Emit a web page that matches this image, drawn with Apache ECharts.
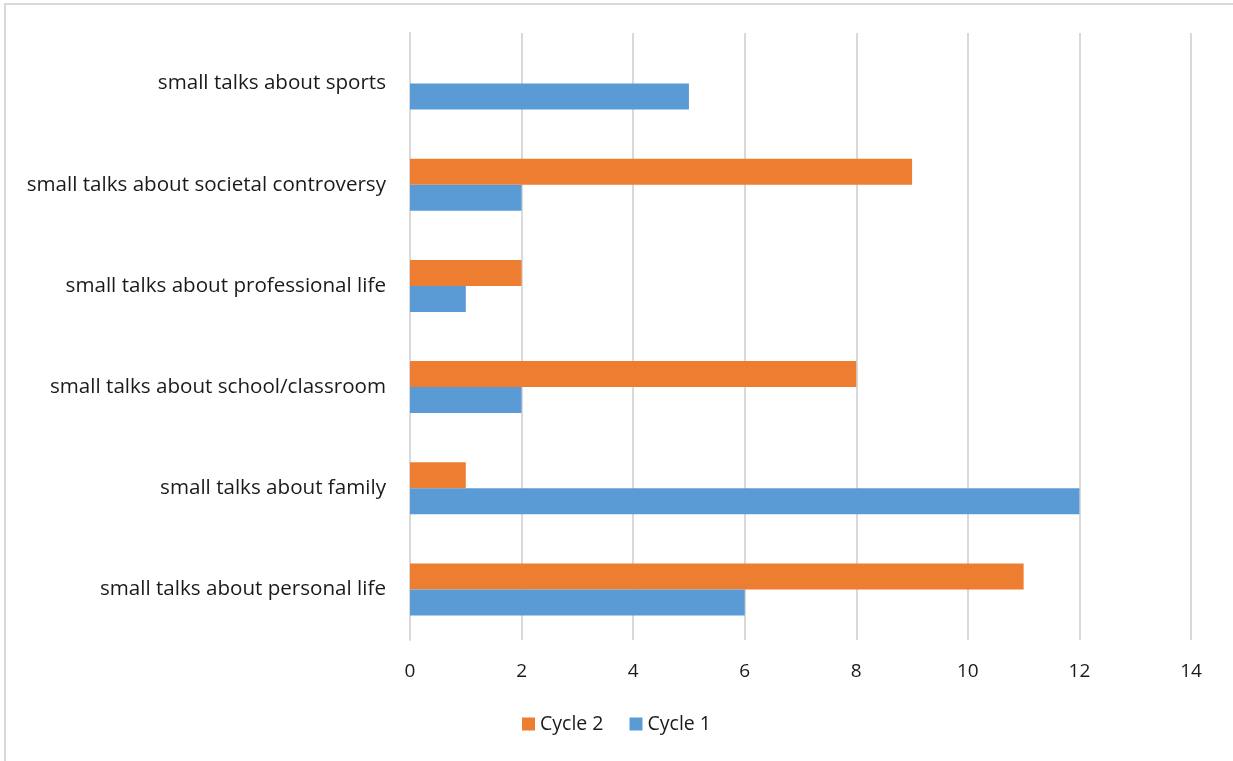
<!DOCTYPE html>
<html>
<head>
<meta charset="utf-8">
<script src="https://cdn.jsdelivr.net/npm/echarts@6/dist/echarts.min.js"></script>
<style>
  html, body { margin: 0; padding: 0; background: #fff; }
  #chart { width: 1233px; height: 761px; }
</style>
</head>
<body>
<div id="chart"></div>
<script>
// Topics listed bottom to top along the category axis
const categories = [
  'small talks about personal life',
  'small talks about family',
  'small talks about school/classroom',
  'small talks about professional life',
  'small talks about societal controversy',
  'small talks about sports'
];
const cycle1 = [6, 12, 2, 1, 2, 5];
const cycle2 = [11, 1, 8, 2, 9, null];
const xTicks = [0, 2, 4, 6, 8, 10, 12, 14];

const FONT = '"Open Sans", "Noto Sans", sans-serif';

const chart = echarts.init(document.getElementById('chart'), null, { renderer: 'canvas' });
chart.setOption({
  backgroundColor: '#ffffff',
  animation: false,
  textStyle: { fontFamily: FONT },
  graphic: [{
    type: 'rect',
    shape: { x: 5, y: 4, width: 1240, height: 770 },
    style: { fill: 'none', stroke: '#d9d9d9', lineWidth: 2 },
    silent: true
  }],
  grid: { left: 410, right: 42, top: 33, bottom: 121, containLabel: false },
  legend: {
    data: ['Cycle 2', 'Cycle 1'],
    bottom: 22,
    left: 'center',
    itemWidth: 13,
    itemHeight: 13,
    itemGap: 26,
    icon: 'rect',
    textStyle: { fontFamily: FONT, fontSize: 19.5, color: '#1a1a1a' }
  },
  xAxis: {
    type: 'value',
    min: xTicks[0],
    max: xTicks[xTicks.length - 1],
    interval: 2,
    axisLine: { show: false },
    axisTick: { show: false },
    splitLine: { show: true, lineStyle: { color: '#d9d9d9', width: 2 } },
    axisLabel: { fontFamily: FONT, fontSize: 19, color: '#1a1a1a', margin: 22 }
  },
  yAxis: {
    type: 'category',
    data: categories,
    axisLine: { show: true, lineStyle: { color: '#d9d9d9', width: 2 } },
    axisTick: { show: false },
    axisLabel: {
      fontFamily: FONT, fontSize: 20.6, color: '#1a1a1a', margin: 24,
      padding: [10, 0, 0, 0]
    }
  },
  // Cycle 2 is listed first so that its bar sits above Cycle 1 in each row
  series: [
    {
      name: 'Cycle 2',
      type: 'bar',
      data: cycle2,
      barWidth: 26,
      barGap: '0%',
      itemStyle: { color: '#ed7d31' }
    },
    {
      name: 'Cycle 1',
      type: 'bar',
      data: cycle1,
      barWidth: 26,
      barGap: '0%',
      itemStyle: { color: '#5b9bd5' }
    }
  ]
});
</script>
</body>
</html>
